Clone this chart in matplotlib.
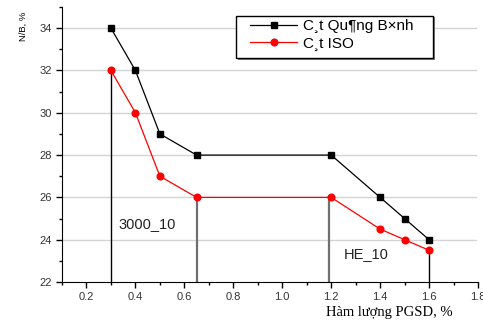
import matplotlib
matplotlib.use("Agg")
import matplotlib.pyplot as plt
from matplotlib.ticker import MultipleLocator
from matplotlib.patches import Rectangle

x = [0.3, 0.4, 0.5, 0.65, 1.2, 1.4, 1.5, 1.6]
quang_binh = [34, 32, 29, 28, 28, 26, 25, 24]
iso = [32, 30, 27, 26, 26, 24.5, 24, 23.5]
label_qb = "C¸t Qu¶ng B×nh"
label_iso = "C¸t ISO"
vlines_black = [(0.3, 32), (1.6, 23.5)]
vlines_gray = [(0.65, 26), (1.19, 26)]
annotations = [("3000_10", 0.329, 24.75), ("HE_10", 1.252, 23.3)]

W, H = 483, 325
plt.rcParams['font.family'] = ['Liberation Sans', 'DejaVu Sans']
fig = plt.figure(figsize=(W/100, H/100), dpi=100)
ax = fig.add_axes([62/W, 43/H, 416/W, 275/H])
ax.set_xlim(0.1, 1.8)
ax.set_ylim(22, 35)

for v in range(24, 35, 2):
    ax.axhline(v, color='#d4d4d4', lw=1.0, zorder=0, xmax=0.995)

for xv, yv in vlines_black:
    ax.plot([xv, xv], [22, yv], color='black', lw=1.0, zorder=1)
for xv, yv in vlines_gray:
    ax.plot([xv, xv], [22, yv], color='#707070', lw=1.6, zorder=1)

ax.plot(x, quang_binh, color='black', lw=0.9, marker='s', ms=4.5, label=label_qb, zorder=3)
ax.plot(x, iso, color='red', lw=0.9, marker='o', ms=4.8, label=label_iso, zorder=3)

for t, xv, yv in annotations:
    ax.text(xv, yv, t, fontsize=10.5, color='#222222', va='center')

for s in ['top', 'right']:
    ax.spines[s].set_visible(False)

ax.xaxis.set_minor_locator(MultipleLocator(0.1))
ax.yaxis.set_major_locator(MultipleLocator(2))
ax.yaxis.set_minor_locator(MultipleLocator(1))
ax.set_xticks([0.2, 0.4, 0.6, 0.8, 1.0, 1.2, 1.4, 1.6, 1.8])
ax.set_xticklabels(['0.2', '0.4', '0.6', '0.8', '1.0', '1.2', '1.4', '1.6', '1.8'])
ax.tick_params(axis='both', which='major', direction='out', length=4, width=1, labelsize=8, labelcolor='#333333')
ax.tick_params(axis='both', which='minor', direction='out', length=2.5, width=1)

fig.text(326/W, 1 - 316/H, "Hàm lượng PGSD, %", family=['Liberation Serif', 'DejaVu Serif'],
         fontsize=10.5, va='baseline', ha='left')
fig.text(23/W, 1 - 26/H, "N/B, %", rotation=90, fontsize=6.8, va='center', ha='center')

# legend frame with shadow
fig.patches.append(Rectangle((237.5/W, 1 - 59.5/H), 197/W, 42/H, transform=fig.transFigure,
                             facecolor='#808080', edgecolor='none', zorder=4))
fig.patches.append(Rectangle((236/W, 1 - 58/H), 197/W, 42/H, transform=fig.transFigure,
                             facecolor='white', edgecolor='black', lw=1.0, zorder=5))
leg = ax.legend(loc='upper left', bbox_to_anchor=(250/W, 1 - 19.4/H), bbox_transform=fig.transFigure,
                frameon=False, fontsize=11, borderpad=0, labelspacing=0.18,
                handlelength=3.1, handletextpad=0.35, borderaxespad=0)
leg.remove()
fig.add_artist(leg)
leg.set_zorder(6)

fig.savefig("out.png", dpi=100)
